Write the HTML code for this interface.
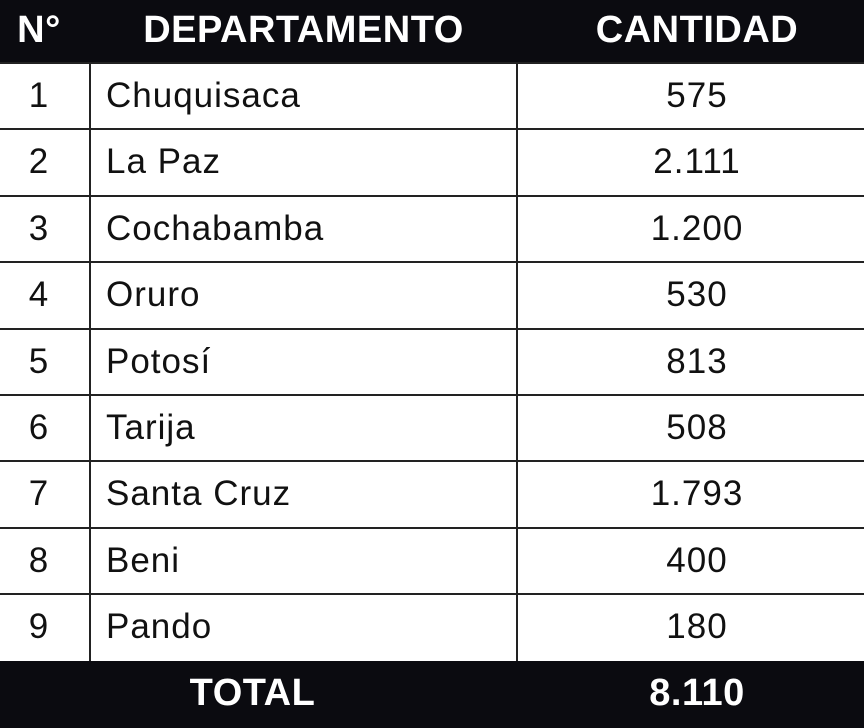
<!DOCTYPE html>
<html><head><meta charset="utf-8"><style>
body{margin:0;width:864px;height:728px;background:#fff;position:relative;overflow:hidden;font-family:"Liberation Sans",sans-serif;color:#111}
.bk{position:absolute;left:0;width:864px;background:#0b0b10}
.h{position:absolute;color:#fff;font-weight:bold;font-size:38px;text-align:center;letter-spacing:0.5px}
.hl{position:absolute;left:0;width:864px;height:2px;background:#222}
.vl{position:absolute;width:2px;background:#222}
.c{position:absolute;font-size:35px;height:66px;line-height:66px;letter-spacing:1px}
</style></head><body>
<div class="bk" style="top:0;height:62px"></div>
<div class="bk" style="top:661px;height:67px"></div>
<div class="h" style="left:0;width:78px;top:4px;line-height:52px">N°</div>
<div class="h" style="left:90px;width:427px;top:4px;line-height:52px">DEPARTAMENTO</div>
<div class="h" style="left:517px;width:360px;top:4px;line-height:52px">CANTIDAD</div>
<div class="h" style="left:0;width:505px;top:663px;line-height:60px">TOTAL</div>
<div class="h" style="left:517px;width:360px;top:663px;line-height:60px">8.110</div>
<div class="vl" style="left:89px;top:62px;height:599px"></div>
<div class="vl" style="left:516px;top:62px;height:599px"></div>
<div id="rows"></div>
<script>
var d=[["1","Chuquisaca","575"],["2","La Paz","2.111"],["3","Cochabamba","1.200"],["4","Oruro","530"],["5","Potosí","813"],["6","Tarija","508"],["7","Santa Cruz","1.793"],["8","Beni","400"],["9","Pando","180"]];
var h="";
for(var i=0;i<9;i++){var t=63+i*66.4;
h+='<div class="hl" style="top:'+(t-1)+'px"></div>';
h+='<div class="c" style="left:0;width:78px;text-align:center;top:'+t+'px">'+d[i][0]+'</div>';
h+='<div class="c" style="left:106px;top:'+t+'px">'+d[i][1]+'</div>';
h+='<div class="c" style="left:517px;width:360px;text-align:center;top:'+t+'px">'+d[i][2]+'</div>';}
document.getElementById("rows").innerHTML=h;
</script>
</body></html>
